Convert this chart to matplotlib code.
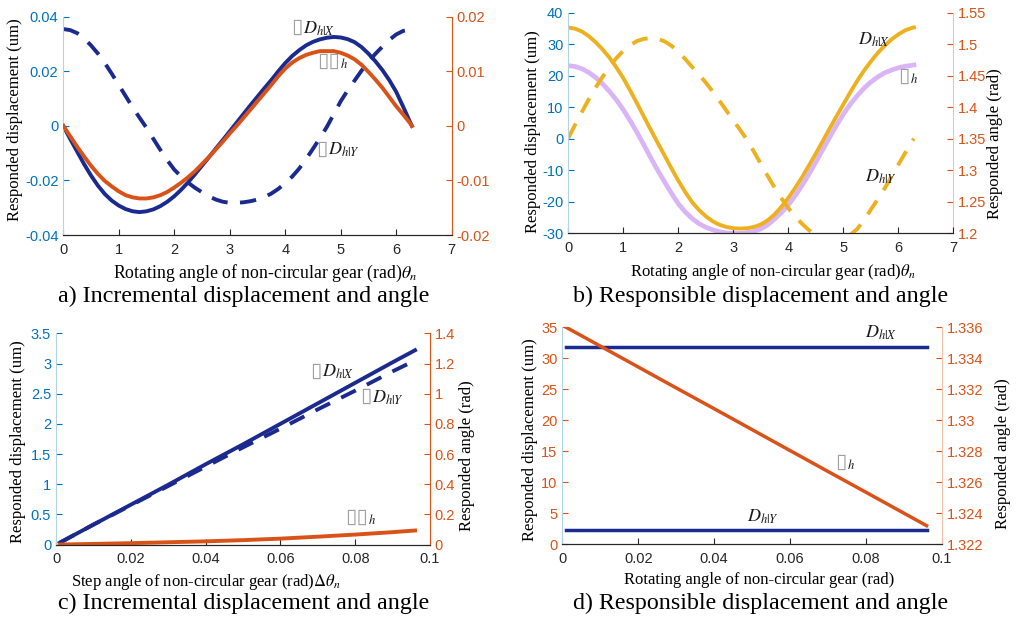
import matplotlib
matplotlib.use('Agg')
import matplotlib.pyplot as plt
from matplotlib.ticker import FuncFormatter

plt.rcParams['font.family'] = ['Liberation Sans', 'DejaVu Sans']
plt.rcParams['mathtext.fontset'] = 'stix'
plt.rcParams['axes.unicode_minus'] = False

# ---- data ----
theta = [0, 0.125, 0.25, 0.375, 0.5, 0.625, 0.75, 0.875, 1.0, 1.125, 1.25,
         1.375, 1.5, 1.625, 1.75, 1.875, 2.0, 2.125, 2.25, 2.375, 2.5, 2.625,
         2.75, 2.875, 3.0, 3.125, 3.25, 3.375, 3.5, 3.625, 3.75, 3.875, 4.0,
         4.125, 4.25, 4.375, 4.5, 4.625, 4.75, 4.875, 5.0, 5.125, 5.25, 5.375,
         5.5, 5.625, 5.75, 5.875, 6.0, 6.125, 6.25, 6.2832]

# a) incremental displacement (um) and angle (rad)
inc_dx = [0, -0.0048, -0.0094, -0.0140, -0.0182, -0.0219, -0.0250, -0.0274,
          -0.0292, -0.0305, -0.0313, -0.0316, -0.0313, -0.0306, -0.0294,
          -0.0278, -0.0258, -0.0234, -0.0207, -0.0177, -0.0146, -0.0115,
          -0.0083, -0.0052, -0.0020, 0.0012, 0.0044, 0.0076, 0.0107, 0.0138,
          0.0168, 0.0200, 0.0230, 0.0256, 0.0277, 0.0295, 0.0308, 0.0317,
          0.0323, 0.0326, 0.0324, 0.0318, 0.0307, 0.0289, 0.0265, 0.0237,
          0.0205, 0.0168, 0.0125, 0.0071, 0.0014, 0]
inc_dy = [0.0355, 0.0351, 0.0340, 0.0321, 0.0295, 0.0265, 0.0230, 0.0191,
          0.0150, 0.0109, 0.0068, 0.0030, -0.0007, -0.0048, -0.0088, -0.0126,
          -0.0160, -0.0186, -0.0208, -0.0227, -0.0243, -0.0258, -0.0270,
          -0.0278, -0.0282, -0.0282, -0.0280, -0.0276, -0.0270, -0.0261,
          -0.0248, -0.0231, -0.0210, -0.0186, -0.0157, -0.0122, -0.0084,
          -0.0045, -0.0004, 0.0043, 0.0090, 0.0130, 0.0166, 0.0202, 0.0235,
          0.0264, 0.0290, 0.0315, 0.0335, 0.0348, 0.0353, 0.0355]
inc_gamma = [0, -0.0019, -0.0038, -0.0056, -0.0073, -0.0088, -0.0101, -0.0111,
             -0.0120, -0.0127, -0.0131, -0.0133, -0.0133, -0.0131, -0.0127,
             -0.0121, -0.0113, -0.0104, -0.0094, -0.0083, -0.0070, -0.0057,
             -0.0043, -0.0029, -0.0014, 0.0000, 0.0015, 0.0030, 0.0045, 0.0060,
             0.0075, 0.0091, 0.0105, 0.0116, 0.0124, 0.0130, 0.0134, 0.0137,
             0.0137, 0.0137, 0.0134, 0.0129, 0.0122, 0.0112, 0.0099, 0.0085,
             0.0070, 0.0053, 0.0036, 0.0021, 0.0005, 0]

# b) responsible displacement (um) and angle (rad)
res_dx = [35.3, 34.9, 34.0, 32.5, 30.6, 28.3, 25.7, 22.6, 19.2, 15.3, 11.2,
          7.0, 2.8, -1.3, -5.3, -9.4, -13.3, -16.9, -20.1, -22.6, -24.6, -26.2,
          -27.3, -28.0, -28.4, -28.5, -28.4, -28.0, -27.2, -25.9, -24.0, -21.6,
          -18.8, -15.6, -12.2, -8.5, -4.7, -0.8, 3.2, 7.1, 10.9, 14.7, 18.3,
          21.6, 24.5, 27.2, 29.5, 31.5, 33.1, 34.4, 35.2, 35.3]
res_dy = [0.2, 4.5, 8.6, 12.6, 16.3, 19.7, 22.8, 25.6, 27.9, 29.7, 31.0, 31.7,
          31.9, 31.7, 30.9, 29.5, 27.6, 25.3, 22.8, 20.4, 17.8, 15.0, 12.0, 8.9,
          5.8, 2.8, -0.4, -4.1, -8.0, -11.8, -15.5, -18.9, -22.0, -24.7, -27.0,
          -29.0, -30.6, -31.7, -32.3, -32.2, -31.6, -30.5, -28.7, -25.8, -22.5,
          -19.2, -15.8, -12.0, -8.2, -4.5, -0.8, 0.0]
res_gamma = [1.4660, 1.4645, 1.4610, 1.4550, 1.4470, 1.4370, 1.4250, 1.4115,
             1.3960, 1.3785, 1.3600, 1.3400, 1.3195, 1.3000, 1.2815, 1.2635,
             1.2470, 1.2340, 1.2235, 1.2155, 1.2095, 1.2055, 1.2025, 1.2005,
             1.2000, 1.2000, 1.2010, 1.2030, 1.2070, 1.2135, 1.2225, 1.2330,
             1.2450, 1.2595, 1.2760, 1.2940, 1.3130, 1.3325, 1.3520, 1.3710,
             1.3890, 1.4045, 1.4180, 1.4300, 1.4400, 1.4480, 1.4545, 1.4590,
             1.4625, 1.4650, 1.4665, 1.4670]

# c) step angle of the gear
step = [0.001, 0.01, 0.02, 0.03, 0.04, 0.05, 0.06, 0.07, 0.08, 0.09, 0.096]
step_dx = [0.03, 0.33, 0.66, 0.99, 1.33, 1.66, 2.00, 2.34, 2.68, 3.02, 3.22]
step_dy = [0.03, 0.33, 0.65, 0.97, 1.29, 1.61, 1.92, 2.24, 2.55, 2.87, 3.05]
step_gamma = [0.0, 0.004, 0.009, 0.015, 0.021, 0.029, 0.039, 0.052, 0.066,
              0.082, 0.093]

# d) small rotation, responsible values
rot = [0.001, 0.01, 0.02, 0.03, 0.04, 0.05, 0.06, 0.07, 0.08, 0.09, 0.096]
rot_dx = [31.9, 31.9, 31.9, 31.9, 31.9, 31.9, 31.9, 31.9, 31.9, 31.9, 31.9]
rot_dy = [2.3, 2.3, 2.3, 2.3, 2.3, 2.3, 2.3, 2.3, 2.3, 2.3, 2.3]
rot_gamma = [1.33600, 1.33479, 1.33344, 1.33209, 1.33075, 1.32940, 1.32805,
             1.32670, 1.32536, 1.32401, 1.32320]

NAVY = '#1b2a8e'
ORANGE = '#d95319'
BLUE = '#0072bd'
GOLD = '#edb120'
LILAC = '#d9b5f7'
SERIF = 'Liberation Serif'
DASH = (4.2, 3.2)
LW = 2.8

fmt = FuncFormatter(lambda v, p: '%g' % v)


def setup(rect, xlim, xticks, yl, ylt, yr, yrt, lcol, rspine):
    ax = fig.add_axes(rect)
    ax2 = ax.twinx()
    ax.set_xlim(xlim)
    ax.set_xticks(xticks)
    ax.set_ylim(yl)
    ax.set_yticks(ylt)
    ax2.set_ylim(yr)
    ax2.set_yticks(yrt)
    for a in (ax, ax2):
        a.xaxis.set_major_formatter(fmt)
        a.yaxis.set_major_formatter(fmt)
        a.spines['top'].set_visible(False)
        a.tick_params(direction='in', length=4, labelsize=10.5)
        a.tick_params(axis='x', pad=5.5)
        a.spines['bottom'].set_color('#262626')
    ax.tick_params(axis='x', colors='#262626')
    ax.tick_params(axis='y', colors=lcol)
    ax.spines['left'].set_color('#b3d3ea')
    ax.spines['right'].set_visible(False)
    ax2.spines['left'].set_visible(False)
    ax2.tick_params(axis='y', colors=ORANGE)
    ax2.spines['right'].set_color(rspine)
    return ax, ax2


def labels(ax, ax2, xlab, xpos, lpos, rpos=None):
    ax.set_xlabel(xlab, family=SERIF, fontsize=12)
    ax.xaxis.set_label_coords(xpos, -0.128)
    ax.set_ylabel('Responded displacement (um)', family=SERIF, fontsize=12)
    ax.yaxis.set_label_coords(*lpos)
    ax.yaxis.label.set_va('center')
    if rpos is not None:
        ax2.set_ylabel('Responded angle (rad)', family=SERIF, fontsize=12)
        ax2.yaxis.set_label_coords(*rpos)
        ax2.yaxis.label.set_va('center')


def tag(ax, x, y, boxes, math):
    if boxes:
        ax.text(x, y, boxes, color='#a0a0a0', fontsize=15, family='DejaVu Sans',
                ha='right', va='baseline')
    ax.text(x, y, math, fontsize=13, color='#1a1a1a', ha='left', va='baseline')


fig = plt.figure(figsize=(10.17, 6.18), dpi=100)

# ---------------- a ----------------
ax, ax2 = setup([0.0622, 0.6197, 0.3819, 0.3532], (0, 7), range(0, 8),
                (-0.04, 0.04), [-0.04, -0.02, 0, 0.02, 0.04],
                (-0.02, 0.02), [-0.02, -0.01, 0, 0.01, 0.02], BLUE, ORANGE)
ax.plot(theta, inc_dx, color=NAVY, lw=LW)
ax.plot(theta, inc_dy, color=NAVY, lw=LW, dashes=DASH)
ax2.plot(theta, inc_gamma, color=ORANGE, lw=LW)
labels(ax, ax2, r'Rotating angle of non-circular gear (rad)$\theta_n$', 0.52,
       (-0.125, 0.53))
ax.xaxis.label.set_fontsize(12.8)
tag(ax, 4.32, 0.0340, '\u25af', r'$D_{h|X}$')
tag(ax, 4.99, 0.0216, '\u25af\u25af', r'${}_{h}$')
tag(ax, 4.77, -0.0107, '\u25af', r'$D_{h|Y}$')
fig.text(0.240, 0.521, 'a) Incremental displacement and angle', family=SERIF,
         fontsize=17.3, ha='center', va='center')

# ---------------- b ----------------
ax, ax2 = setup([0.5588, 0.6225, 0.3786, 0.3570], (0, 7), range(0, 8),
                (-30, 40), range(-30, 41, 10),
                (1.2, 1.55), [1.2, 1.25, 1.3, 1.35, 1.4, 1.45, 1.5, 1.55],
                BLUE, '#f4c0a8')
ax.set_zorder(ax2.get_zorder() + 1)
ax.patch.set_visible(False)
ax2.plot(theta, res_gamma, color=LILAC, lw=3.4)
ax.plot(theta, res_dx, color=GOLD, lw=LW)
ax.plot(theta, res_dy, color=GOLD, lw=LW, dashes=DASH)
labels(ax, ax2, r'Rotating angle of non-circular gear (rad)$\theta_n$', 0.53,
       (-0.092, 0.46), (1.108, 0.405))
tag(ax, 5.27, 29.75, '', r'$D_{h|X}$')
tag(ax, 6.21, 18.0, '\u25af', r'${}_{h}$')
tag(ax, 5.39, -13.7, '', r'$D_{h|Y}$')
fig.text(0.748, 0.521, 'b) Responsible displacement and angle', family=SERIF,
         fontsize=17.3, ha='center', va='center')

# ---------------- c ----------------
ax, ax2 = setup([0.0551, 0.1189, 0.3677, 0.3417], (0, 0.1), [0, 0.02, 0.04, 0.06, 0.08, 0.1],
                (0, 3.5), [0, 0.5, 1, 1.5, 2, 2.5, 3, 3.5],
                (0, 1.4), [0, 0.2, 0.4, 0.6, 0.8, 1, 1.2, 1.4], BLUE, ORANGE)
ax.plot(step, step_dx, color=NAVY, lw=LW)
ax.plot(step, step_dy, color=NAVY, lw=LW, dashes=DASH)
ax2.plot(step, step_gamma, color=ORANGE, lw=LW)
labels(ax, ax2, r'Step angle of non-circular gear (rad)$\Delta\theta_n$', 0.40,
       (-0.102, 0.485), (1.099, 0.42))
tag(ax, 0.0711, 2.78, '\u25af', r'$D_{h|X}$')
tag(ax, 0.0845, 2.36, '\u25af', r'$D_{h|Y}$')
tag(ax, 0.0834, 0.356, '\u25af\u25af', r'${}_{h}$')
fig.text(0.240, 0.0243, 'c) Incremental displacement and angle', family=SERIF,
         fontsize=17.3, ha='center', va='center')

# ---------------- d ----------------
ax, ax2 = setup([0.5529, 0.1193, 0.3731, 0.3511], (0, 0.1), [0, 0.02, 0.04, 0.06, 0.08, 0.1],
                (0, 35), range(0, 36, 5),
                (1.322, 1.336), [1.322, 1.324, 1.326, 1.328, 1.33, 1.332, 1.334, 1.336],
                ORANGE, '#f4c0a8')
ax.plot(rot, rot_dx, color=NAVY, lw=2.5)
ax.plot(rot, rot_dy, color=NAVY, lw=2.5)
ax2.plot(rot, rot_gamma, color=ORANGE, lw=2.5)
labels(ax, ax2, 'Rotating angle of non-circular gear (rad)', 0.52,
       (-0.085, 0.48), (1.162, 0.42))
tag(ax, 0.0798, 33.27, '', r'$D_{h|X}$')
tag(ax, 0.0750, 12.3, '\u25af', r'${}_{h}$')
tag(ax, 0.0487, 3.6, '', r'$D_{h|Y}$')
fig.text(0.748, 0.0243, 'd) Responsible displacement and angle', family=SERIF,
         fontsize=17.3, ha='center', va='center')

fig.savefig('out.png', dpi=100)
